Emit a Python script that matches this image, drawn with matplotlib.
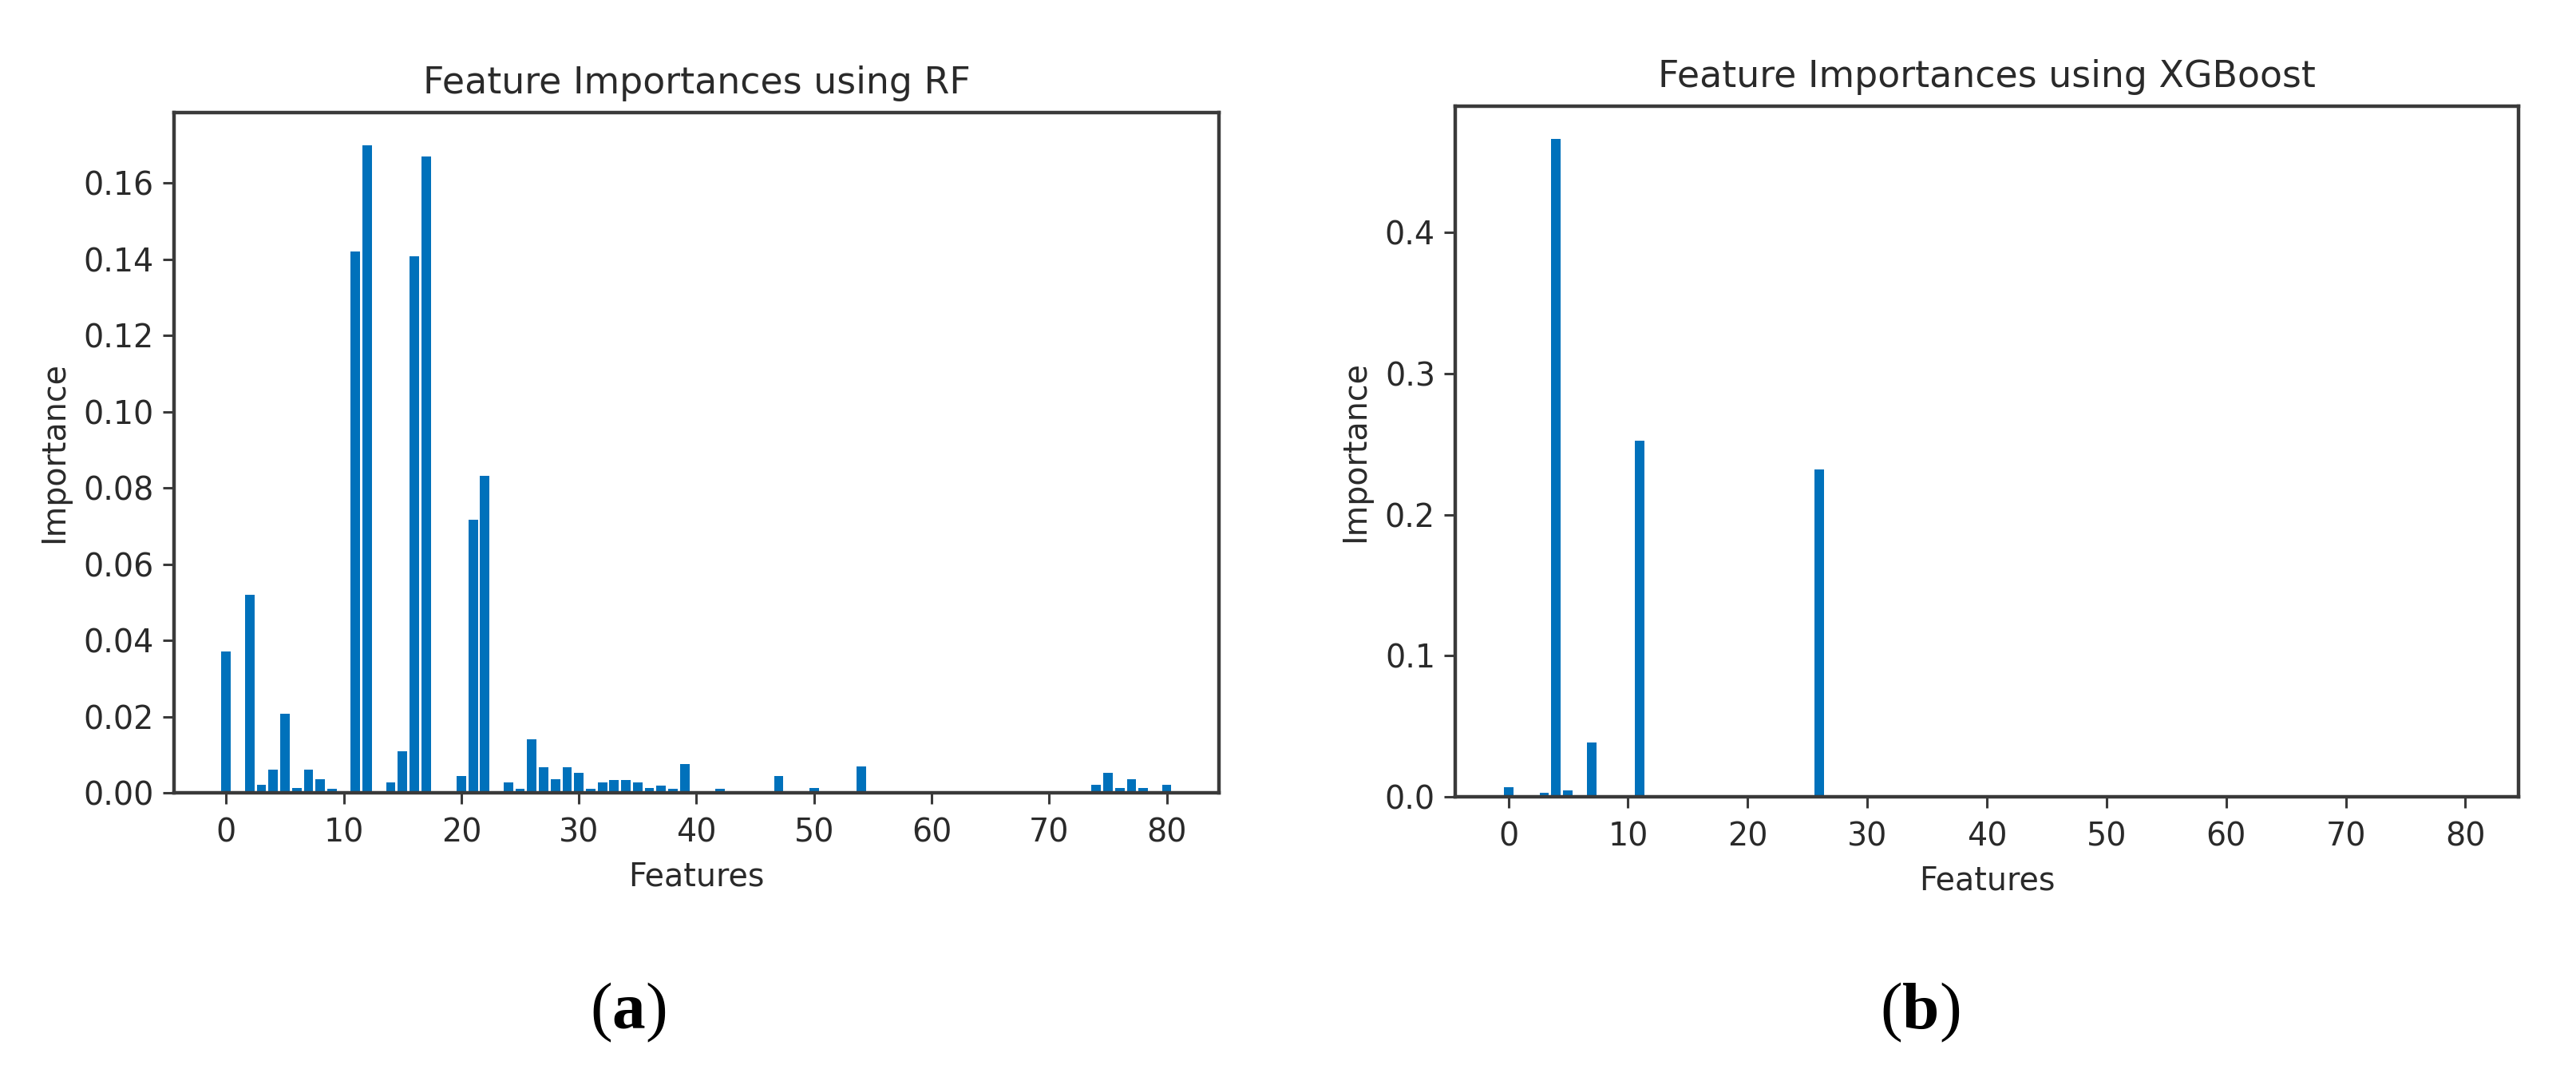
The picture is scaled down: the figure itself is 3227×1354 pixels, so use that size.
import matplotlib
matplotlib.use("Agg")
import matplotlib.pyplot as plt

# ---- data ----
rf_features = list(range(81))
rf_importance = [
    0.037, 0.0, 0.052, 0.002, 0.006, 0.0208, 0.0013, 0.006, 0.0036, 0.001,   # 0-9
    0.0, 0.142, 0.170, 0.0, 0.0027, 0.0109, 0.1407, 0.1669, 0.0, 0.0,        # 10-19
    0.0044, 0.0716, 0.0831, 0.0, 0.0027, 0.001, 0.014, 0.0068, 0.0036, 0.0068,  # 20-29
    0.0053, 0.001, 0.0027, 0.0033, 0.0033, 0.0027, 0.0012, 0.0018, 0.001, 0.0075,  # 30-39
    0.0, 0.0, 0.001, 0.0, 0.0, 0.0, 0.0, 0.0045, 0.0, 0.0,                   # 40-49
    0.0013, 0.0, 0.0, 0.0, 0.0069, 0.0, 0.0, 0.0, 0.0, 0.0,                  # 50-59
    0.0, 0.0, 0.0, 0.0, 0.0, 0.0, 0.0, 0.0, 0.0, 0.0,                        # 60-69
    0.0, 0.0, 0.0, 0.0, 0.002, 0.0052, 0.0013, 0.0036, 0.0012, 0.0,          # 70-79
    0.002,                                                                   # 80
]

xgb_features = list(range(81))
xgb_importance = [
    0.007, 0.0, 0.0, 0.0028, 0.4664, 0.0045, 0.0, 0.0385, 0.0, 0.0,          # 0-9
    0.0, 0.2524, 0.0, 0.0, 0.0, 0.0, 0.0, 0.0, 0.0, 0.0,                     # 10-19
    0.0, 0.0, 0.0, 0.0, 0.0, 0.0, 0.2324, 0.0, 0.0, 0.0,                     # 20-29
] + [0.0] * 51

titles = ["Feature Importances using RF", "Feature Importances using XGBoost"]
panel_labels = ["a", "b"]
x_label = "Features"
y_label = "Importance"

# ---- style ----
BAR_COLOR = "#0071bb"
SPINE_COLOR = "#3a3a3a"
TEXT_COLOR = "#2a2a2a"
TICK_FS = 28.5
TITLE_FS = 33

plt.rcParams["font.family"] = ["DejaVu Sans"]
plt.rcParams["mathtext.fontset"] = "custom"
plt.rcParams["mathtext.rm"] = "Liberation Serif"
plt.rcParams["mathtext.bf"] = "Liberation Serif:bold"

fig = plt.figure(figsize=(32.27, 13.54), dpi=100)
fig.patch.set_facecolor("white")

ax_rects = [
    [0.06755, 0.26662, 0.40564, 0.62925],
    [0.56492, 0.26292, 0.41277, 0.63885],
]
datasets = [(rf_features, rf_importance), (xgb_features, xgb_importance)]

for rect, (feats, vals), title in zip(ax_rects, datasets, titles):
    ax = fig.add_axes(rect)
    ax.bar(feats, vals, width=0.8, color=BAR_COLOR)
    ax.set_title(title, fontsize=TITLE_FS, color=TEXT_COLOR, pad=17)
    ax.set_xlabel(x_label, fontsize=TICK_FS, color=TEXT_COLOR, labelpad=11)
    ax.set_ylabel(y_label, fontsize=TICK_FS, color=TEXT_COLOR, labelpad=12)
    ax.set_xticks([0, 10, 20, 30, 40, 50, 60, 70, 80])
    ax.tick_params(axis="both", labelsize=TICK_FS, labelcolor=TEXT_COLOR,
                   color=SPINE_COLOR, length=10, width=2.2, pad=8)
    ax.tick_params(axis="x", pad=12)
    for sp in ax.spines.values():
        sp.set_color(SPINE_COLOR)
        sp.set_linewidth(3.2)

# panel labels (a), (b)
label_x = [787 / 3227, 2405 / 3227]
for lx, lab in zip(label_x, panel_labels):
    fig.text(lx, 1 - 1267 / 1354, r"$(\mathbf{" + lab + r"})$", fontsize=60,
             ha="center", va="center", color="black")

fig.savefig("out.png", dpi=100, facecolor="white")
